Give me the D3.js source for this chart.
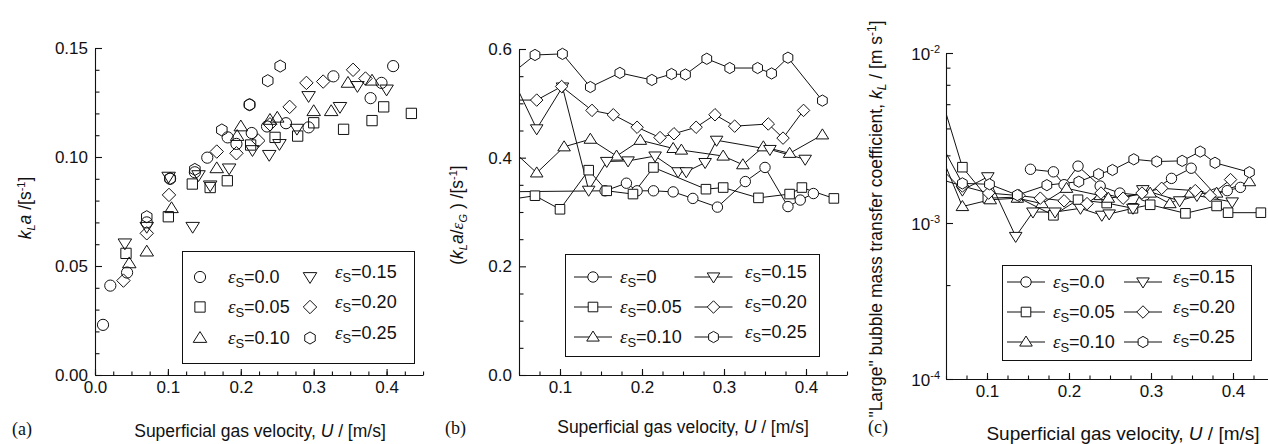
<!DOCTYPE html>
<html><head><meta charset="utf-8">
<script src="https://cdn.jsdelivr.net/npm/d3@7"></script>
<style>
html,body{margin:0;padding:0;background:#fff;}
svg{display:block;font-family:"Liberation Sans",Arial,sans-serif;}
</style></head>
<body><svg id="chart" width="1268" height="444"></svg>
<script>
// ---------------- DATA ----------------
const seriesLabels = ["0.0","0.05","0.10","0.15","0.20","0.25"];
const seriesLabelsB = ["0","0.05","0.10","0.15","0.20","0.25"];
const markerTypes = ["circle","square","triUp","triDown","diamond","hexagon"];

// Panel (a): kLa [1/s] vs U [m/s]
const aU0 = [0.011,0.021,0.044,0.071,0.103,0.137,0.154,0.182,0.194,0.212,0.215,0.236,0.262,0.293,0.327,0.378,0.393,0.409];
const aK0 = [0.023,0.041,0.047,0.070,0.090,0.093,0.0997,0.109,0.106,0.124,0.111,0.114,0.1155,0.1136,0.137,0.127,0.134,0.1417];
const aU1 = [0.0425,0.1006,0.1335,0.158,0.1815,0.2135,0.247,0.278,0.300,0.341,0.380,0.396,0.434];
const aK1 = [0.0558,0.0726,0.0876,0.086,0.0891,0.1055,0.109,0.1096,0.1157,0.1127,0.1167,0.123,0.120];
const aU2 = [0.047,0.071,0.105,0.167,0.195,0.200,0.240,0.250,0.300,0.324,0.347,0.380];
const aK2 = [0.0512,0.0566,0.0765,0.0948,0.1096,0.114,0.117,0.118,0.121,0.121,0.134,0.135];
const aU3 = [0.041,0.071,0.101,0.134,0.142,0.158,0.184,0.216,0.239,0.253,0.277,0.293,0.336,0.360,0.400];
const aK3 = [0.0604,0.068,0.091,0.068,0.0917,0.087,0.0948,0.1032,0.101,0.106,0.113,0.128,0.123,0.1326,0.131];
const aU4 = [0.039,0.071,0.1015,0.167,0.194,0.224,0.240,0.267,0.290,0.313,0.354,0.371];
const aK4 = [0.0433,0.065,0.0826,0.1025,0.1017,0.1075,0.115,0.123,0.134,0.1346,0.140,0.136];
const aU5 = [0.071,0.103,0.137,0.174,0.212,0.237,0.254];
const aK5 = [0.0726,0.0902,0.0943,0.1124,0.124,0.135,0.1417];

// Panel (b): kLa/eps_G [1/s] vs U (first points lie left of the axis and are clipped)
const bU0 = [0.020,0.155,0.181,0.194,0.214,0.238,0.262,0.292,0.326,0.350,0.378,0.393,0.409];
const bV0 = [0.337,0.339,0.353,0.339,0.339,0.337,0.325,0.309,0.356,0.382,0.310,0.322,0.334];
const bU1 = [0.043,0.0695,0.100,0.135,0.157,0.189,0.214,0.278,0.299,0.342,0.380,0.395,0.434];
const bV1 = [0.324,0.330,0.305,0.377,0.339,0.333,0.382,0.342,0.345,0.326,0.333,0.345,0.325];
const bU2 = [0.043,0.0716,0.105,0.137,0.169,0.198,0.238,0.248,0.299,0.323,0.348,0.380,0.420];
const bV2 = [0.412,0.372,0.420,0.434,0.403,0.432,0.417,0.414,0.403,0.387,0.420,0.408,0.442];
const bU3 = [0.043,0.0716,0.103,0.135,0.157,0.183,0.216,0.244,0.254,0.277,0.291,0.356,0.399];
const bV3 = [0.543,0.453,0.530,0.340,0.393,0.394,0.403,0.374,0.374,0.391,0.432,0.415,0.397];
const bU4 = [0.043,0.0716,0.102,0.139,0.165,0.194,0.222,0.239,0.266,0.289,0.313,0.354,0.372,0.397];
const bV4 = [0.506,0.506,0.531,0.487,0.479,0.456,0.437,0.444,0.456,0.479,0.458,0.462,0.436,0.487];
const bU5 = [0.043,0.0695,0.103,0.137,0.173,0.212,0.236,0.253,0.279,0.307,0.341,0.358,0.378,0.420];
const bV5 = [0.557,0.589,0.591,0.530,0.556,0.543,0.554,0.553,0.582,0.565,0.565,0.555,0.584,0.505];

// Panel (c): "large" bubble kL [m/s] vs U
const cU0 = [0.153,0.181,0.194,0.211,0.238,0.262,0.292,0.325,0.349,0.378,0.393,0.409];
const cV0 = [2.07e-3,2.0e-3,1.68e-3,2.16e-3,1.65e-3,1.5e-3,1.45e-3,1.83e-3,2.1e-3,1.48e-3,1.55e-3,1.62e-3];
const cU1 = [0.044,0.070,0.101,0.137,0.181,0.211,0.246,0.278,0.299,0.342,0.380,0.394,0.434];
const cV1 = [5.5e-3,2.13e-3,1.40e-3,1.42e-3,1.11e-3,1.37e-3,1.31e-3,1.22e-3,1.28e-3,1.14e-3,1.26e-3,1.15e-3,1.15e-3];
const cU2 = [0.043,0.070,0.104,0.137,0.167,0.197,0.238,0.248,0.299,0.323,0.348,0.380,0.420];
const cV2 = [2.58e-3,1.25e-3,1.37e-3,1.40e-3,1.3e-3,1.6e-3,1.45e-3,1.4e-3,1.5e-3,1.3e-3,1.5e-3,1.5e-3,1.75e-3];
const cU3 = [0.043,0.070,0.101,0.135,0.156,0.183,0.214,0.240,0.249,0.278,0.290,0.335,0.356,0.399];
const cV3 = [2.12e-3,1.56e-3,1.87e-3,8.2e-4,1.16e-3,1.16e-3,1.22e-3,1.11e-3,1.13e-3,1.22e-3,1.57e-3,1.35e-3,1.45e-3,1.33e-3];
const cU4 = [0.043,0.070,0.102,0.139,0.165,0.194,0.222,0.239,0.266,0.289,0.313,0.354,0.372,0.397];
const cV4 = [1.81e-3,1.65e-3,1.5e-3,1.45e-3,1.4e-3,1.35e-3,1.3e-3,1.5e-3,1.4e-3,1.5e-3,1.6e-3,1.55e-3,1.45e-3,1.8e-3];
const cU5 = [0.043,0.070,0.103,0.137,0.173,0.212,0.236,0.253,0.279,0.307,0.338,0.360,0.378,0.420];
const cV5 = [2.97e-3,1.71e-3,1.69e-3,1.46e-3,1.67e-3,1.75e-3,1.94e-3,2.05e-3,2.37e-3,2.3e-3,2.32e-3,2.63e-3,2.26e-3,1.99e-3];

// Tick values
const aXTicks = [0.0,0.1,0.2,0.3,0.4];
const aYTicks = [0.00,0.05,0.10,0.15];
const bXTicks = [0.1,0.2,0.3,0.4];
const bYTicks = [0.0,0.2,0.4,0.6];
const cXTicks = [0.1,0.2,0.3,0.4];
const cYTicks = [1e-4,1e-3,1e-2];
const cYMinor = [4e-4,2.5e-3,3.6e-3,5e-3,6.5e-3,8.2e-3];

// --------------- DRAW ---------------
const svg = d3.select("#chart");
const ink = "#111";
const TICK_FS = 17, TITLE_FS = 17.5, LEG_FS = 18;

function markerPath(type, r){
  const p = d3.path();
  if(type==="square"){ const s=r*0.92; p.rect(-s,-s,2*s,2*s); }
  else if(type==="triUp"){ const h=r*1.15; p.moveTo(0,-h); p.lineTo(h*1.05,h*0.68); p.lineTo(-h*1.05,h*0.68); p.closePath(); }
  else if(type==="triDown"){ const h=r*1.15; p.moveTo(0,h); p.lineTo(h*1.05,-h*0.68); p.lineTo(-h*1.05,-h*0.68); p.closePath(); }
  else if(type==="diamond"){ const h=r*1.2; p.moveTo(0,-h); p.lineTo(h,0); p.lineTo(0,h); p.lineTo(-h,0); p.closePath(); }
  else if(type==="hexagon"){ const h=r*1.08; for(let k=0;k<6;k++){const a=-Math.PI/2+k*Math.PI/3; const x=h*Math.cos(a), y=h*Math.sin(a); if(k===0)p.moveTo(x,y); else p.lineTo(x,y);} p.closePath(); }
  else { p.arc(0,0,r,0,2*Math.PI); p.closePath(); }
  return p.toString();
}

function drawMarker(g, type, x, y, r, fill){
  g.append("path").attr("d", markerPath(type,r)).attr("transform",`translate(${x},${y})`)
   .attr("fill", fill).attr("stroke", ink).attr("stroke-width",1);
}

function epsText(g, x, y, label, size){
  const t = g.append("text").attr("x",x).attr("y",y).attr("font-size",size).attr("fill",ink);
  t.append("tspan").attr("font-family","Liberation Serif, Times New Roman, serif").attr("font-style","italic").attr("font-size",size*1.05).text("ε");
  t.append("tspan").attr("dy",4).attr("font-size",size*0.72).text("S");
  t.append("tspan").attr("dy",-4).text("="+label);
}

function setupAxes(g, x, y, xt, xMinorStep, yt, yMinor, yFmt, isLog){
  const xd = x.domain();
  const minorX = d3.range(Math.round(xd[0]/xMinorStep), Math.round(xd[1]/xMinorStep)+1).map(i=>i*xMinorStep);
  const y0 = y.range()[0], x0 = x.range()[0];
  g.append("g").attr("transform",`translate(0,${y0})`)
    .call(d3.axisBottom(x).tickValues(minorX).tickSizeInner(-3.5).tickSizeOuter(0).tickFormat(""))
    .call(s=>s.select(".domain").remove());
  g.append("g").attr("transform",`translate(${x0},0)`)
    .call(d3.axisLeft(y).tickValues(yMinor).tickSizeInner(-4.5).tickSizeOuter(0).tickFormat(""))
    .call(s=>s.select(".domain").remove());
  const gx = g.append("g").attr("transform",`translate(0,${y0})`)
    .call(d3.axisBottom(x).tickValues(xt).tickSizeInner(-6).tickSizeOuter(0).tickPadding(6).tickFormat(d3.format(".1f")));
  const gy = g.append("g").attr("transform",`translate(${x0},0)`)
    .call(d3.axisLeft(y).tickValues(yt).tickSizeInner(-7).tickSizeOuter(0).tickPadding(7).tickFormat(isLog?"":yFmt));
  [gx,gy].forEach(a=>{
    a.selectAll("path").attr("stroke",ink).attr("stroke-width",1.1);
    a.selectAll("text").attr("font-size",TICK_FS).attr("fill",ink).attr("font-family","Liberation Sans, Arial, sans-serif");
  });
  g.selectAll("line").attr("stroke",ink).attr("stroke-width",1.1);
  if(isLog){
    gy.selectAll(".tick").each(function(d){
      const t = d3.select(this).append("text").attr("x",-6).attr("dy","0.36em").attr("text-anchor","end")
        .attr("font-size",TICK_FS).attr("fill",ink);
      t.append("tspan").text("10");
      t.append("tspan").attr("dy",-7).attr("font-size",11).text(String(Math.round(Math.log10(d))));
    });
  }
}

function clipRect(id, x, y){
  const xr = x.range(), yr = y.range();
  const x0 = xr[0], x1 = xr[xr.length-1], ya = yr[0], yb = yr[yr.length-1];
  svg.append("clipPath").attr("id",id).append("rect")
    .attr("x",x0).attr("y",Math.min(ya,yb)-10).attr("width",x1-x0+10).attr("height",Math.abs(ya-yb)+10);
}

function xTitle(g, cx, y, fs){
  const xt = g.append("text").attr("x",cx).attr("y",y).attr("text-anchor","middle").attr("font-size",fs).attr("fill",ink);
  xt.append("tspan").text("Superficial gas velocity, ");
  xt.append("tspan").attr("font-style","italic").text("U");
  xt.append("tspan").text(" / [m/s]");
}

// ---- Panel (a)
{
  const x = d3.scaleLinear().domain([0,0.45]).range([95, 95+0.45*729]);
  const y = d3.scaleLinear().domain([0,0.15]).range([375,48]);
  const g = svg.append("g");
  setupAxes(g, x, y, aXTicks, 0.025, aYTicks, d3.range(1,15).map(i=>i*0.01).filter(v=>Math.abs(v*20-Math.round(v*20))>1e-6), d3.format(".2f"), false);
  const AU=[aU0,aU1,aU2,aU3,aU4,aU5], AK=[aK0,aK1,aK2,aK3,aK4,aK5];
  const gm = g.append("g");
  AU.forEach((us,s)=>us.forEach((u,i)=>drawMarker(gm, markerTypes[s], x(u), y(AK[s][i]), 5.6, "none")));
  const lg = g.append("g");
  lg.append("rect").attr("x",182.5).attr("y",251.5).attr("width",232).attr("height",112).attr("fill","#fff").attr("stroke",ink).attr("stroke-width",1);
  const rowsY=[277,307,338];
  for(let s=0;s<6;s++){
    const col = s<3?0:1, row=s%3;
    const sx = col===0?200:310, tx = col===0?228:335;
    drawMarker(lg, markerTypes[s], sx, rowsY[row], 5.6, "none");
    epsText(lg, tx, rowsY[row]+6-(col?5:0), seriesLabels[s], LEG_FS);
  }
  const yt = g.append("text").attr("transform","translate(31,208) rotate(-90)").attr("text-anchor","middle").attr("font-size",TITLE_FS).attr("fill",ink);
  yt.append("tspan").attr("font-style","italic").text("k");
  yt.append("tspan").attr("font-style","italic").attr("font-size",11).attr("dy",4).text("L");
  yt.append("tspan").attr("font-style","italic").attr("dy",-4).text("a");
  yt.append("tspan").text(" /[s");
  yt.append("tspan").attr("font-size",11).attr("dy",-6).text("-1");
  yt.append("tspan").attr("dy",6).text("]");
  xTitle(g, 260, 437, 17.5);
  g.append("text").attr("x",12).attr("y",435).attr("font-family","Liberation Serif, Times New Roman, serif").attr("font-size",18).attr("fill",ink).text("(a)");
}

// ---- Panel (b)
{
  const x = d3.scaleLinear().domain([0.05,0.45]).range([519, 519+0.4*820]);
  const y = d3.scaleLinear().domain([0,0.6]).range([375,49]);
  clipRect("clipB", x, y);
  const g = svg.append("g");
  setupAxes(g, x, y, bXTicks, 0.025, bYTicks, d3.range(1,12).map(i=>i*0.05).filter(v=>Math.abs(v*5-Math.round(v*5))>1e-6), d3.format(".1f"), false);
  const BU=[bU0,bU1,bU2,bU3,bU4,bU5], BV=[bV0,bV1,bV2,bV3,bV4,bV5];
  const gd = g.append("g").attr("clip-path","url(#clipB)");
  const line = d3.line();
  BU.forEach((us,s)=>gd.append("path").attr("d", line(us.map((u,i)=>[x(u), y(BV[s][i])]))).attr("fill","none").attr("stroke",ink).attr("stroke-width",1));
  BU.forEach((us,s)=>us.forEach((u,i)=>{ if(u>=0.05) drawMarker(gd, markerTypes[s], x(u), y(BV[s][i]), 5.2, "#fff"); }));
  const lg = g.append("g");
  lg.append("rect").attr("x",565.5).attr("y",254.5).attr("width",254).attr("height",102).attr("fill","#fff").attr("stroke",ink).attr("stroke-width",1);
  const rowsY=[277,307,337];
  for(let s=0;s<6;s++){
    const col = s<3?0:1, row=s%3;
    const sx = col===0?593:713.5, tx = col===0?620:745;
    lg.append("line").attr("x1",sx-19).attr("x2",sx+19).attr("y1",rowsY[row]).attr("y2",rowsY[row]).attr("stroke",ink);
    drawMarker(lg, markerTypes[s], sx, rowsY[row], 5.2, "#fff");
    epsText(lg, tx, rowsY[row]+6-(col?5:0), seriesLabelsB[s], LEG_FS);
  }
  const yt = g.append("text").attr("transform","translate(463,215) rotate(-90)").attr("text-anchor","middle").attr("font-size",TITLE_FS).attr("fill",ink);
  yt.append("tspan").text("(");
  yt.append("tspan").attr("font-style","italic").text("k");
  yt.append("tspan").attr("font-style","italic").attr("font-size",11).attr("dy",4).text("L");
  yt.append("tspan").attr("font-style","italic").attr("dy",-4).text("a");
  yt.append("tspan").text("/");
  yt.append("tspan").attr("font-family","Liberation Serif, Times New Roman, serif").attr("font-style","italic").text("ε");
  yt.append("tspan").attr("font-style","italic").attr("font-size",11).attr("dy",4).text("G");
  yt.append("tspan").attr("dy",-4).text(" ) /[s");
  yt.append("tspan").attr("font-size",11).attr("dy",-6).text("-1");
  yt.append("tspan").attr("dy",6).text("]");
  xTitle(g, 683, 433, 17.5);
  g.append("text").attr("x",445).attr("y",434).attr("font-family","Liberation Serif, Times New Roman, serif").attr("font-size",18).attr("fill",ink).text("(b)");
}

// ---- Panel (c)
{
  const x = d3.scaleLinear().domain([0.05,0.45]).range([946, 946+0.4*820]);
  const y = d3.scaleLog().domain([1e-4,1e-3,1e-2]).range([379,223,53]);
  clipRect("clipC", x, y);
  const g = svg.append("g");
  setupAxes(g, x, y, cXTicks, 0.025, cYTicks, cYMinor, null, true);
  const CU=[cU0,cU1,cU2,cU3,cU4,cU5], CV=[cV0,cV1,cV2,cV3,cV4,cV5];
  const gd = g.append("g").attr("clip-path","url(#clipC)");
  const line = d3.line();
  CU.forEach((us,s)=>gd.append("path").attr("d", line(us.map((u,i)=>[x(u), y(CV[s][i])]))).attr("fill","none").attr("stroke",ink).attr("stroke-width",1));
  CU.forEach((us,s)=>us.forEach((u,i)=>{ if(u>=0.05) drawMarker(gd, markerTypes[s], x(u), y(CV[s][i]), 5.2, "#fff"); }));
  const lg = g.append("g");
  lg.append("rect").attr("x",1002.5).attr("y",265.5).attr("width",249).attr("height",95).attr("fill","#fff").attr("stroke",ink).attr("stroke-width",1);
  const rowsY=[282,312,342];
  for(let s=0;s<6;s++){
    const col = s<3?0:1, row=s%3;
    const sx = col===0?1026:1143, tx = col===0?1053:1173;
    lg.append("line").attr("x1",sx-19).attr("x2",sx+19).attr("y1",rowsY[row]).attr("y2",rowsY[row]).attr("stroke",ink);
    drawMarker(lg, markerTypes[s], sx, rowsY[row], 5.2, "#fff");
    epsText(lg, tx, rowsY[row]+6-(col?5:0), seriesLabels[s], LEG_FS);
  }
  const yt = g.append("text").attr("transform","translate(882,219) rotate(-90)").attr("text-anchor","middle").attr("font-size",17.5).attr("fill",ink);
  yt.append("tspan").text("\"Large\" bubble mass transfer coefficient, ");
  yt.append("tspan").attr("font-style","italic").text("k");
  yt.append("tspan").attr("font-style","italic").attr("font-size",12).attr("dy",4).text("L");
  yt.append("tspan").attr("dy",-4).text(" / [m s");
  yt.append("tspan").attr("font-size",12).attr("dy",-6).text("-1");
  yt.append("tspan").attr("dy",6).text("]");
  xTitle(g, 1123, 440, 19);
  g.append("text").attr("x",868).attr("y",433).attr("font-family","Liberation Serif, Times New Roman, serif").attr("font-size",18).attr("fill",ink).text("(c)");
}
</script></body></html>
